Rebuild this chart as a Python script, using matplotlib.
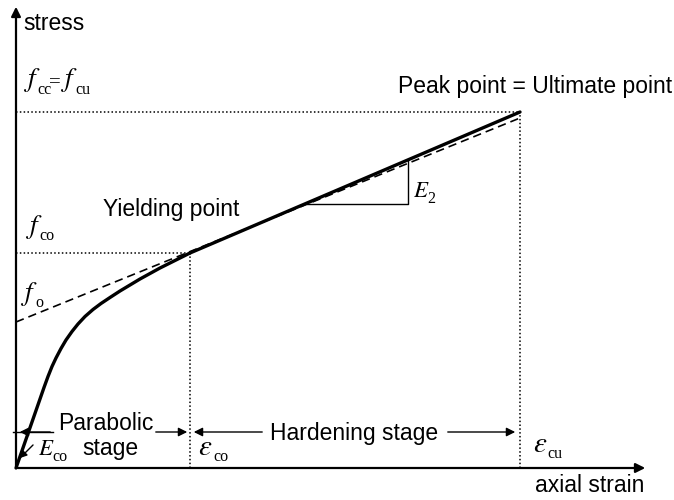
import matplotlib
matplotlib.use('Agg')
from matplotlib import pyplot as plt

plt.rcParams['font.family'] = ['Liberation Sans', 'DejaVu Sans']
plt.rcParams['mathtext.fontset'] = 'stix'

# schematic stress-strain curve (arbitrary units)
curve_strain = [0, 4, 8, 12, 16, 20, 24, 28, 32, 36, 40, 45, 50, 56, 62, 69, 77, 85,
                94, 104, 114, 124, 134, 144, 154, 164, 174]
curve_stress = [0, 11.5, 23, 34.5, 46, 57.5, 69, 80.5, 91.5, 101.5, 110, 119.5, 128, 136.5,
                144, 151.5, 158.5, 164.5, 170.5, 177, 183, 189, 194.5, 200, 205, 210, 215]
yield_pt = (174, 215)
peak_pt = (504, 356)
f_o = 146
dashed_end = (504, 350)
e2_tri_x = [291, 392, 392]
e2_tri_y = [264, 264, 308]

fig = plt.figure(figsize=(6.74, 5.0), dpi=100)
ax = fig.add_axes([0, 0, 1, 1])
ax.set_xlim(-16, 658)
ax.set_ylim(-32, 468)
ax.axis('off')

# axes with arrows
ax.annotate('', xy=(0, 464), xytext=(0, -1),
            arrowprops=dict(arrowstyle='-|>', lw=1.6, color='black', mutation_scale=14))
ax.annotate('', xy=(632, 0), xytext=(-1, 0),
            arrowprops=dict(arrowstyle='-|>', lw=1.6, color='black', mutation_scale=14))

# dotted guide lines
dot = dict(color='black', lw=1.1, ls=(0, (1, 1.5)))
ax.plot([0, peak_pt[0]], [peak_pt[1], peak_pt[1]], **dot)
ax.plot([peak_pt[0], peak_pt[0]], [0, peak_pt[1]], **dot)
ax.plot([0, yield_pt[0]], [yield_pt[1], yield_pt[1]], **dot)
ax.plot([yield_pt[0], yield_pt[0]], [0, yield_pt[1]], **dot)

# dashed asymptote
ax.plot([0, dashed_end[0]], [f_o, dashed_end[1]], color='black', lw=1.2, ls=(0, (5, 3)))

# curve
ax.plot(curve_strain, curve_stress, color='black', lw=2.4, solid_capstyle='round',
        solid_joinstyle='round', zorder=3)
ax.plot([yield_pt[0], peak_pt[0]], [yield_pt[1], peak_pt[1]], color='black', lw=2.4,
        solid_capstyle='round', zorder=3)

# E2 triangle
ax.plot(e2_tri_x, e2_tri_y, color='black', lw=1.0)

# stage arrows
arr = dict(arrowstyle='-|>', lw=1.0, color='black', mutation_scale=13)
ax.plot([-3, 37], [36, 36], color='black', lw=1.0)
ax.annotate('', xy=(1, 36), xytext=(37, 36), arrowprops=arr)
ax.annotate('', xy=(174, 36), xytext=(137, 36), arrowprops=arr)
ax.annotate('', xy=(175, 36), xytext=(249, 36), arrowprops=arr)
ax.annotate('', xy=(502, 36), xytext=(429, 36), arrowprops=arr)
ax.annotate('', xy=(2, 8), xytext=(19, 25),
            arrowprops=dict(arrowstyle='-|>', lw=1.0, color='black', mutation_scale=10))

# labels
fs = 16.5
ax.text(7, 438, 'stress', fontsize=fs, va='baseline')
ax.text(382, 375, 'Peak point = Ultimate point', fontsize=fs, va='baseline')
ax.text(87, 252, 'Yielding point', fontsize=fs, va='baseline')
ax.text(42, 38, 'Parabolic', fontsize=fs, va='baseline')
ax.text(66, 13, 'stage', fontsize=fs, va='baseline')
ax.text(254, 28, 'Hardening stage', fontsize=fs, va='baseline')
ax.text(519, -24, 'axial strain', fontsize=fs, va='baseline')


def symbol(x, y, main, sub, dx, dy=6, size=16.5, subsize=11.5):
    ax.text(x, y, main, fontsize=size, va='baseline')
    ax.text(x + dx, y - dy, sub, fontsize=subsize, va='baseline', family='Liberation Serif')


symbol(8, 382, r'$f$', 'cc', 13, dy=8, size=19.5)
ax.text(39, 385, '=', fontsize=15, ha='center', va='center', family='Liberation Serif')
symbol(45, 382, r'$f$', 'cu', 14, dy=8, size=19.5)
symbol(10, 235, r'$f$', 'co', 13, dy=7, size=19.5)
symbol(5, 168, r'$f$', 'o', 14, dy=7, size=19.5)
symbol(22, 13, r'$E$', 'co', 14)
symbol(397, 271, r'$E$', '2', 14)
symbol(182, 13, r'$\varepsilon$', 'co', 15, size=21)
symbol(517, 16, r'$\varepsilon$', 'cu', 14, size=21)

fig.savefig('out.png', dpi=100)
